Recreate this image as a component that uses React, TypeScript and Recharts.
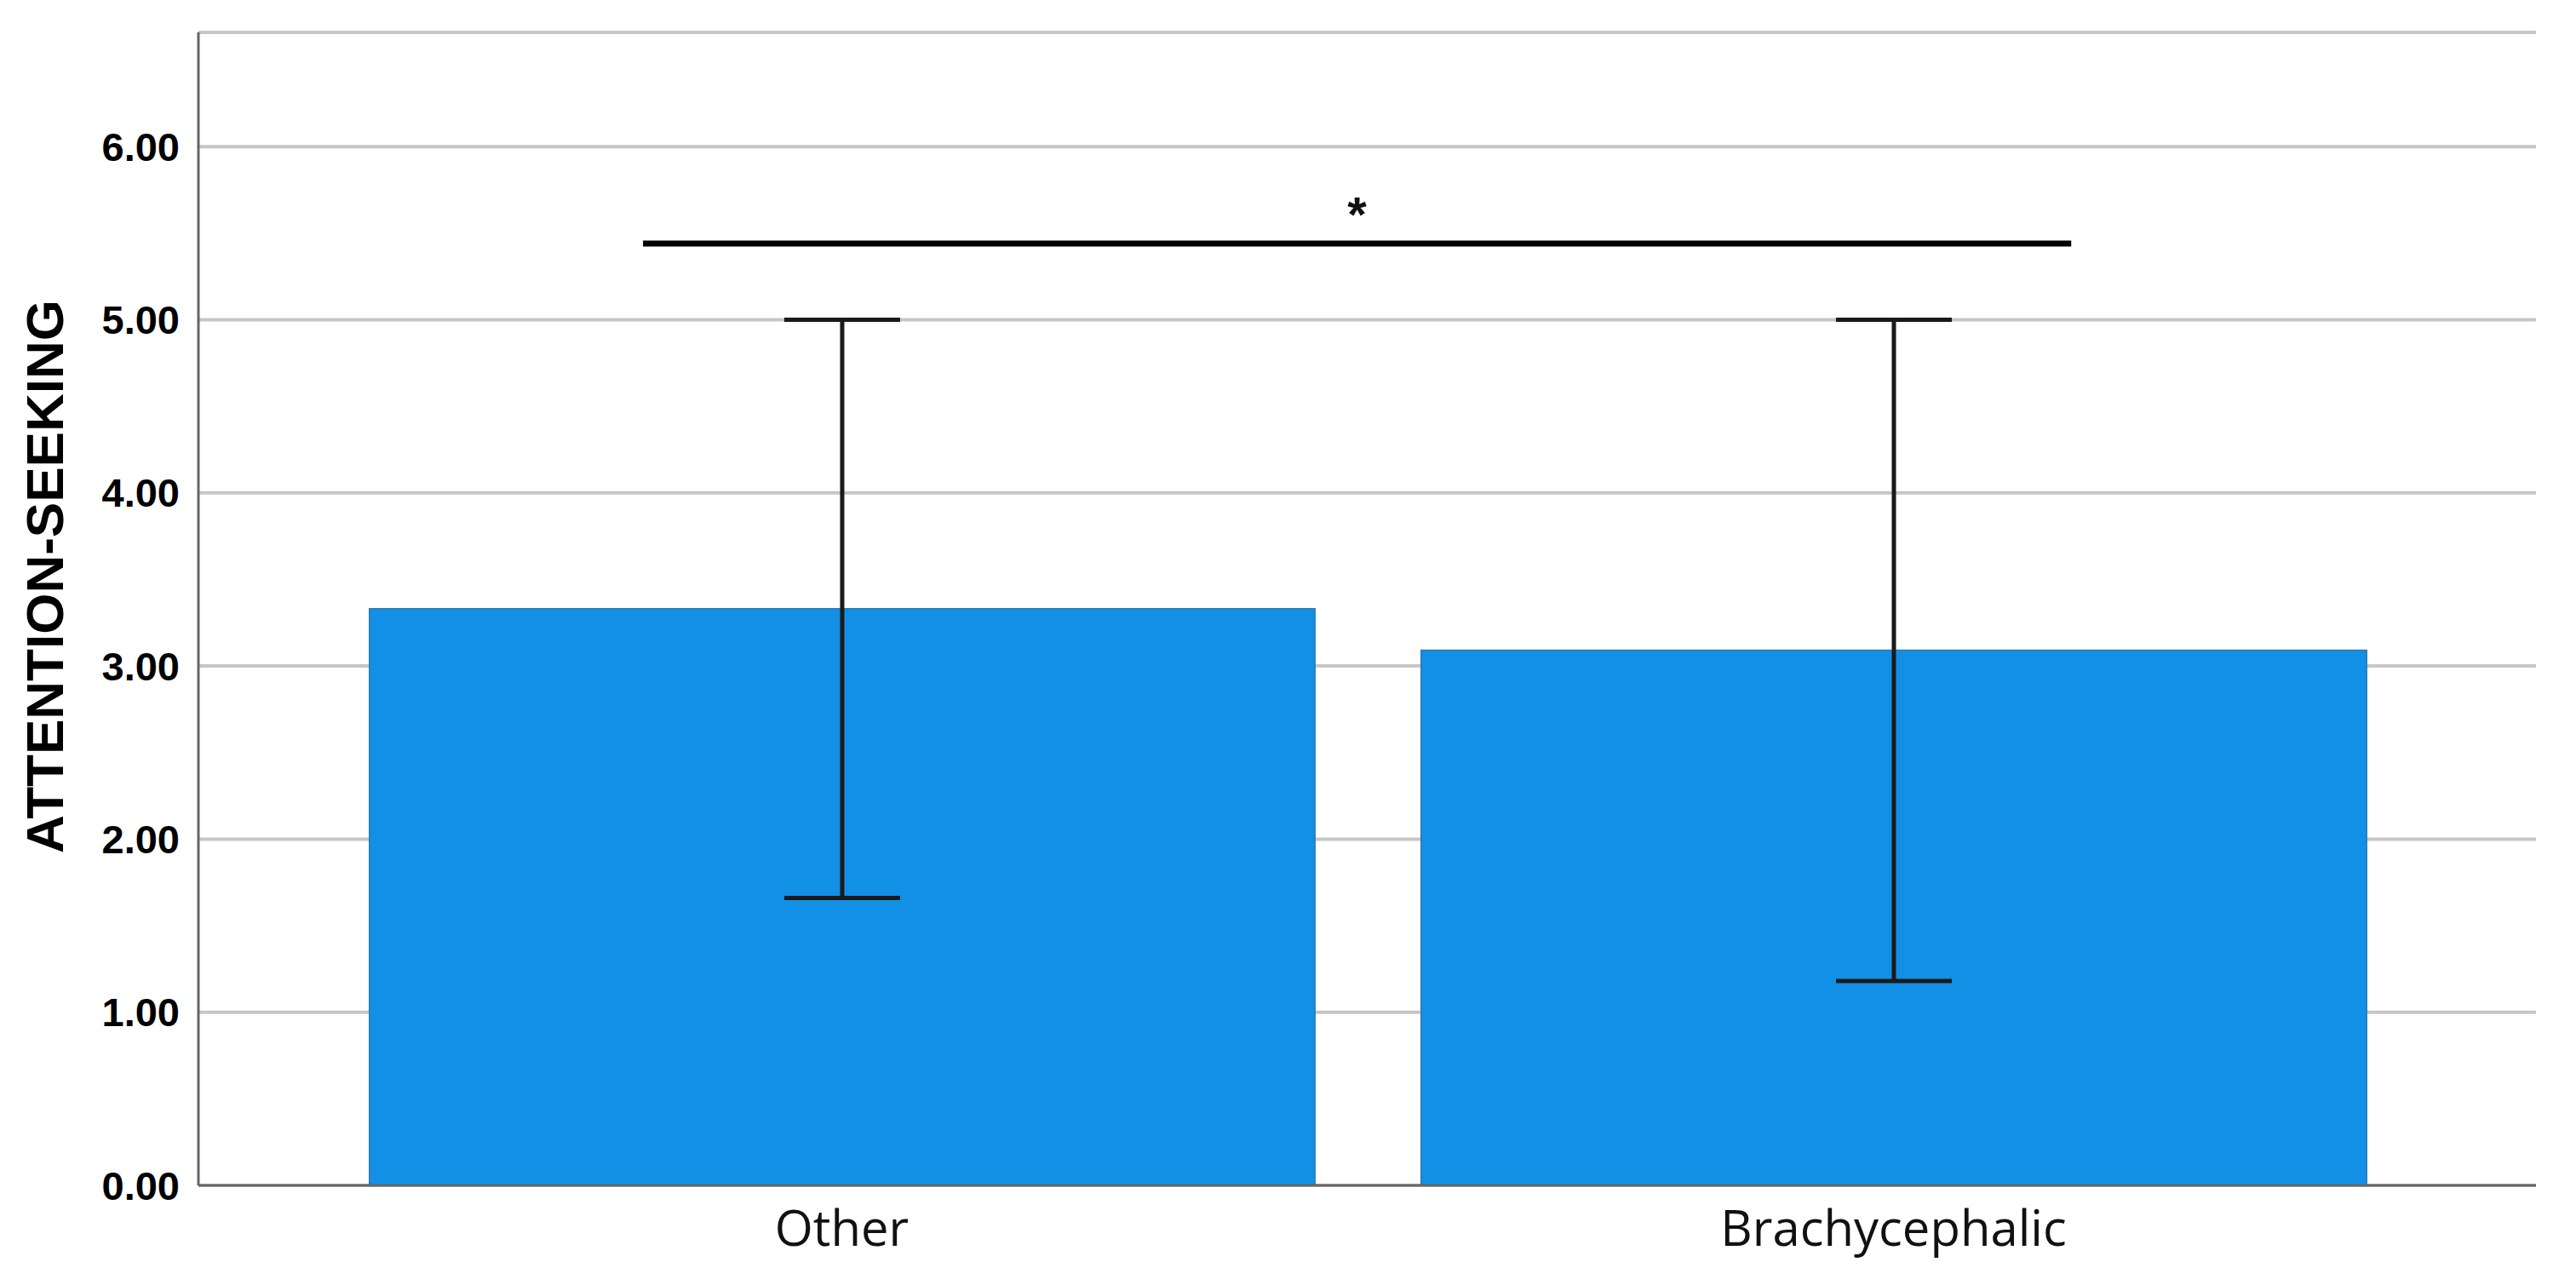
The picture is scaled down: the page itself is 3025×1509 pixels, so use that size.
import React from "react";
import {
  BarChart,
  Bar,
  XAxis,
  YAxis,
  CartesianGrid,
  ErrorBar,
  ReferenceLine,
} from "recharts";

const categories = ["Other", "Brachycephalic"];
const means = [3.33, 3.09];
const sds = [1.67, 1.91];
const yTicks = [0, 1, 2, 3, 4, 5, 6];
const yMax = 6.66;
const sigLevel = 5.44;
const sigMark = "*";
const yTitle = "ATTENTION-SEEKING";

const data = categories.map((name, i) => ({ name, mean: means[i], sd: sds[i] }));

// bracket reaches a bit past both category centres, like the SPSS annotation
function SigLine(props: any) {
  const { x1, y1, x2 } = props;
  const span = x2 - x1;
  const left = x1 - span * 0.189;
  const right = x2 + span * 0.169;
  const mid = (left + right) / 2;
  return (
    <g>
      <line x1={left} y1={y1} x2={right} y2={y1} stroke="#000" strokeWidth={7} />
      <text
        x={mid}
        y={y1 - 14}
        textAnchor="middle"
        fontFamily="Liberation Sans, Arial, sans-serif"
        fontWeight="bold"
        fontSize={58}
        fill="#111"
      >
        {sigMark}
      </text>
    </g>
  );
}

function YTitle(props: any) {
  const vb = props.viewBox || { x: 0, y: 0, width: 0, height: 0 };
  const cx = 52;
  const cy = vb.y + vb.height / 2 - 38;
  return (
    <text
      x={cx}
      y={cy}
      transform={`rotate(-90, ${cx}, ${cy})`}
      textAnchor="middle"
      dominantBaseline="central"
      fontFamily="Liberation Sans, Arial, sans-serif"
      fontWeight="bold"
      fontSize={62}
      fill="#000"
    >
      {yTitle}
    </text>
  );
}

export default function App() {
  return (
    <div style={{ position: "absolute", left: 0, top: 0, width: 3025, height: 1509, background: "#fff" }}>
      <BarChart
        width={3025}
        height={1509}
        data={data}
        margin={{ top: 38, right: 47, bottom: 87, left: 0 }}
      >
        <CartesianGrid vertical={false} stroke="#c6c6c6" strokeWidth={4} />
        <XAxis
          dataKey="name"
          interval={0}
          height={30}
          padding={{ left: 138, right: 137 }}
          axisLine={{ stroke: "#666", strokeWidth: 3 }}
          tickLine={false}
          tickSize={0}
          tickMargin={30}
          tick={{ fontSize: 58, fill: "#111", fontFamily: "Open Sans, sans-serif" }}
        />
        <YAxis
          domain={[0, yMax]}
          ticks={yTicks}
          allowDataOverflow
          tickFormatter={(v: number) => v.toFixed(2)}
          width={233}
          axisLine={{ stroke: "#666", strokeWidth: 3 }}
          tickLine={false}
          tickSize={0}
          tickMargin={22}
          tick={{ fontSize: 47, fontWeight: "bold", fill: "#000", fontFamily: "Liberation Sans, Arial, sans-serif" }}
          label={<YTitle />}
        />
        <Bar
          dataKey="mean"
          fill="#1290e6"
          stroke="#2a7ec0"
          strokeWidth={2}
          barSize={1110}
          isAnimationActive={false}
        >
          <ErrorBar dataKey="sd" direction="y" width={68} stroke="#1a1a1a" strokeWidth={5} isAnimationActive={false} />
        </Bar>
        <ReferenceLine
          segment={[
            { x: categories[0], y: sigLevel },
            { x: categories[1], y: sigLevel },
          ]}
          ifOverflow="visible"
          shape={SigLine}
        />
      </BarChart>
    </div>
  );
}
